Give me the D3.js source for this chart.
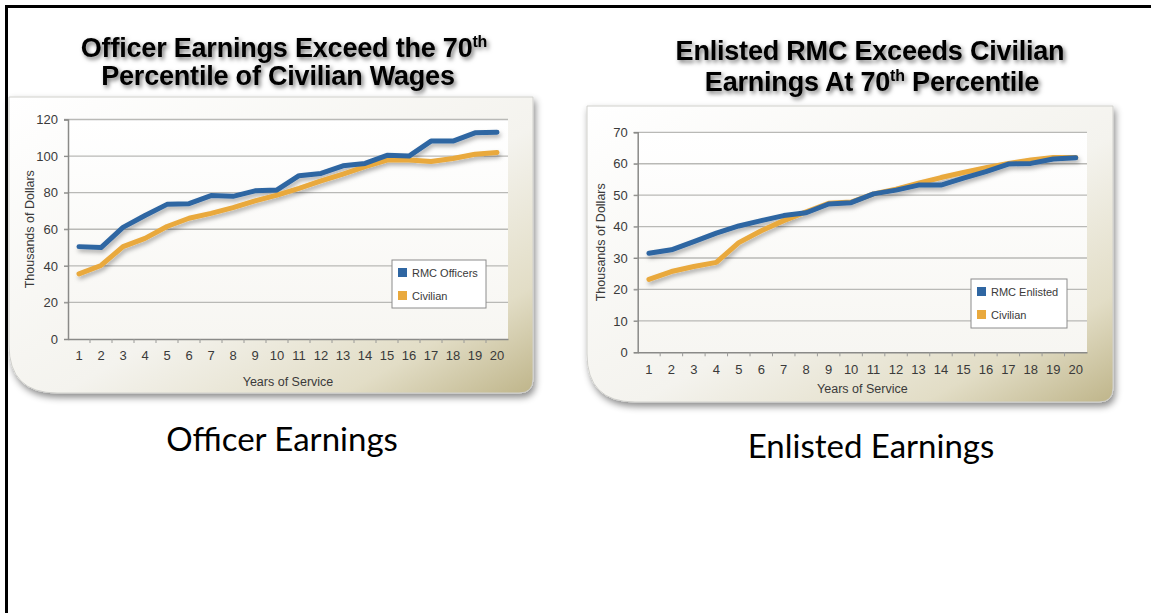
<!DOCTYPE html>
<html>
<head>
<meta charset="utf-8">
<script src="https://cdn.jsdelivr.net/npm/d3@7"></script>
<style>
  html, body { margin: 0; padding: 0; background: #ffffff; }
  svg { display: block; }
</style>
</head>
<body>
<svg id="chart" width="1151" height="613"></svg>
<script>
// ---------------- DATA ----------------
const years = [1,2,3,4,5,6,7,8,9,10,11,12,13,14,15,16,17,18,19,20];

const officerRMC      = [50.5,50,61,67.5,73.6,74,78.4,78,81,81.5,89.3,90.5,94.7,96,100.4,100,108.2,108.2,112.7,113];
const officerCivilian = [35.6,40.2,50.5,55,61.5,66,68.7,71.8,75.5,78.7,82.4,86.4,90.2,94.2,97.8,97.8,97,98.7,101,102];

const enlistedRMC      = [31.5,32.6,35.2,37.9,40.2,41.9,43.5,44.4,47.2,47.6,50.4,51.6,53.2,53.2,55.4,57.5,59.9,60.1,61.5,61.9];
const enlistedCivilian = [23.2,25.7,27.3,28.6,34.9,38.7,41.9,44.7,47.4,47.8,50.4,51.9,53.8,55.6,57.2,58.7,60.1,61.2,62,62];

const officerTicks  = [0,20,40,60,80,100,120];
const enlistedTicks = [0,10,20,30,40,50,60,70];

const officerTitle  = ["Officer Earnings Exceed the 70", "th", "Percentile of Civilian Wages"];
const enlistedTitle = ["Enlisted RMC Exceeds Civilian", "Earnings At 70", "th", " Percentile"];
const officerLegend  = ["RMC Officers", "Civilian"];
const enlistedLegend = ["RMC Enlisted", "Civilian"];
const captions = ["Officer Earnings", "Enlisted Earnings"];

const BLUE = "#2f66a2";
const ORANGE = "#e9a93d";

// ---------------- SETUP ----------------
const svg = d3.select("#chart");
const defs = svg.append("defs");

const cardGrad = defs.append("linearGradient").attr("id", "cardGrad")
  .attr("x1", "0").attr("y1", "0").attr("x2", "1").attr("y2", "1");
cardGrad.append("stop").attr("offset", "0").attr("stop-color", "#ffffff");
cardGrad.append("stop").attr("offset", "0.55").attr("stop-color", "#f4f3ee");
cardGrad.append("stop").attr("offset", "0.82").attr("stop-color", "#e2ddc6");
cardGrad.append("stop").attr("offset", "1").attr("stop-color", "#bfb58a");

const plotGrad = defs.append("linearGradient").attr("id", "plotGrad")
  .attr("x1", "0").attr("y1", "0").attr("x2", "0").attr("y2", "1");
plotGrad.append("stop").attr("offset", "0").attr("stop-color", "#ffffff");
plotGrad.append("stop").attr("offset", "1").attr("stop-color", "#f7f6f2");

const cardShadow = defs.append("filter").attr("id", "cardShadow")
  .attr("x", "-10%").attr("y", "-10%").attr("width", "125%").attr("height", "130%");
cardShadow.append("feDropShadow").attr("dx", 2).attr("dy", 4).attr("stdDeviation", 3.5)
  .attr("flood-color", "#000").attr("flood-opacity", 0.45);

const lineShadow = defs.append("filter").attr("id", "lineShadow")
  .attr("x", "-10%").attr("y", "-20%").attr("width", "120%").attr("height", "150%");
lineShadow.append("feDropShadow").attr("dx", 1.5).attr("dy", 3).attr("stdDeviation", 2)
  .attr("flood-color", "#000").attr("flood-opacity", 0.3);

const textShadow = defs.append("filter").attr("id", "textShadow")
  .attr("x", "-5%").attr("y", "-30%").attr("width", "115%").attr("height", "170%");
textShadow.append("feDropShadow").attr("dx", 2).attr("dy", 2.5).attr("stdDeviation", 2)
  .attr("flood-color", "#000").attr("flood-opacity", 0.55);

// slide frame
svg.append("path")
  .attr("d", "M6.5,613 L6.5,6.5 L1151,6.5")
  .attr("fill", "none").attr("stroke", "#000").attr("stroke-width", 3);

function cardPath(x0, y0, x1, y1, rBL, rBR) {
  const p = d3.path();
  p.moveTo(x0, y0);
  p.lineTo(x1, y0);
  p.lineTo(x1, y1 - rBR);
  p.quadraticCurveTo(x1, y1, x1 - rBR, y1);
  p.lineTo(x0 + rBL, y1);
  p.quadraticCurveTo(x0, y1, x0, y1 - rBL);
  p.closePath();
  return p.toString();
}

function drawPanel(cfg) {
  const g = svg.append("g");

  // card
  g.append("path")
    .attr("d", cardPath(cfg.card[0], cfg.card[1], cfg.card[2], cfg.card[3], 48, 14))
    .attr("fill", "url(#cardGrad)")
    .attr("stroke", "#d0d0cc").attr("stroke-width", 1)
    .attr("filter", "url(#cardShadow)");

  const x = d3.scaleBand().domain(years).range([cfg.plot[0], cfg.plot[2]]);
  const y = d3.scaleLinear().domain([0, cfg.ticks[cfg.ticks.length - 1]]).range([cfg.plot[3], cfg.plot[1]]);

  // plot background
  g.append("rect")
    .attr("x", cfg.plot[0]).attr("y", y.range()[1])
    .attr("width", cfg.plot[2] - cfg.plot[0]).attr("height", y.range()[0] - y.range()[1])
    .attr("fill", "url(#plotGrad)");

  // gridlines
  g.append("g").selectAll("line").data(cfg.ticks.filter(d => d > 0)).join("line")
    .attr("x1", cfg.plot[0] - 4).attr("x2", cfg.plot[2])
    .attr("y1", d => y(d)).attr("y2", d => y(d))
    .attr("stroke", "#b9b9b6").attr("stroke-width", 1.3);

  // y axis
  const yAxis = g.append("g").attr("transform", `translate(${cfg.plot[0]},0)`)
    .call(d3.axisLeft(y).tickValues(cfg.ticks).tickSize(4).tickPadding(6));
  yAxis.select(".domain").attr("stroke", "#8a8a88").attr("stroke-width", 1.5);
  yAxis.selectAll(".tick line").attr("stroke", "#8a8a88");
  yAxis.selectAll("text").attr("fill", "#3a3a3a")
    .style("font-family", "'Liberation Sans', Arial, sans-serif").style("font-size", "13px");

  // x axis
  const xAxis = g.append("g").attr("transform", `translate(0,${y(0)})`)
    .call(d3.axisBottom(x).tickSize(0).tickPadding(12));
  xAxis.select(".domain").attr("stroke", "#8a8a88").attr("stroke-width", 1.5);
  xAxis.selectAll("text").attr("fill", "#3a3a3a")
    .style("font-family", "'Liberation Sans', Arial, sans-serif").style("font-size", "13px");
  // boundary tick marks
  g.append("g").selectAll("line").data(years.slice(1)).join("line")
    .attr("x1", d => x(d)).attr("x2", d => x(d))
    .attr("y1", y(0)).attr("y2", y(0) + 4)
    .attr("stroke", "#9a9a98").attr("stroke-width", 1);

  // axis titles
  g.append("text")
    .attr("x", (cfg.plot[0] + cfg.plot[2]) / 2).attr("y", cfg.xTitleY)
    .attr("text-anchor", "middle").attr("fill", "#3a3a3a")
    .style("font-family", "'Liberation Sans', Arial, sans-serif").style("font-size", "12.5px")
    .text("Years of Service");
  g.append("text")
    .attr("transform", `translate(${cfg.yTitleX},${(y.range()[0] + y.range()[1]) / 2}) rotate(-90)`)
    .attr("text-anchor", "middle").attr("dominant-baseline", "middle").attr("fill", "#3a3a3a")
    .style("font-family", "'Liberation Sans', Arial, sans-serif").style("font-size", "12.5px")
    .text("Thousands of Dollars");

  // lines
  const line = d3.line().x((d, i) => x(years[i]) + x.bandwidth() / 2).y(d => y(d));
  const lines = g.append("g").attr("filter", "url(#lineShadow)");
  lines.append("path").attr("d", line(cfg.civ))
    .attr("fill", "none").attr("stroke", ORANGE).attr("stroke-width", 5)
    .attr("stroke-linejoin", "round").attr("stroke-linecap", "round");
  lines.append("path").attr("d", line(cfg.rmc))
    .attr("fill", "none").attr("stroke", BLUE).attr("stroke-width", 5)
    .attr("stroke-linejoin", "round").attr("stroke-linecap", "round");

  // legend
  const L = cfg.legend;
  const lg = g.append("g").attr("transform", `translate(${L[0]},${L[1]})`);
  lg.append("rect").attr("width", L[2]).attr("height", L[3])
    .attr("fill", "#ffffff").attr("stroke", "#8c8c8c").attr("stroke-width", 1);
  const colors = [BLUE, ORANGE];
  cfg.legendLabels.forEach((lab, i) => {
    lg.append("rect").attr("x", 6).attr("y", 8 + i * 23).attr("width", 9).attr("height", 9)
      .attr("fill", colors[i]);
    lg.append("text").attr("x", 20).attr("y", 16.5 + i * 23)
      .attr("fill", "#3a3a3a")
      .style("font-family", "'Liberation Sans', Arial, sans-serif").style("font-size", "11px")
      .text(lab);
  });
}

drawPanel({
  card: [9, 97, 533, 393],
  plot: [68, 119.5, 508, 339],
  ticks: officerTicks,
  rmc: officerRMC, civ: officerCivilian,
  legend: [392, 260, 94, 48], legendLabels: officerLegend,
  xTitleY: 386, yTitleX: 31
});

drawPanel({
  card: [587, 106, 1113, 402],
  plot: [637.7, 132.3, 1087, 352.3],
  ticks: enlistedTicks,
  rmc: enlistedRMC, civ: enlistedCivilian,
  legend: [971, 279, 96, 49], legendLabels: enlistedLegend,
  xTitleY: 393, yTitleX: 602
});

// titles
const titleFont = "'Liberation Sans', Arial, sans-serif";
function titleLine(parts, cx, yb) {
  const t = svg.append("text").attr("x", cx).attr("y", yb).attr("text-anchor", "middle")
    .attr("fill", "#000").attr("filter", "url(#textShadow)")
    .style("font-family", titleFont).style("font-weight", "bold").style("font-size", "27px")
    .style("letter-spacing", "-0.2px");
  parts.forEach(p => {
    if (p.sup) {
      t.append("tspan").attr("dy", -10).style("font-size", "16px").text(p.s);
    } else if (p.after) {
      t.append("tspan").attr("dy", 10).text(p.s);
    } else {
      t.append("tspan").text(p.s);
    }
  });
}
titleLine([{s: officerTitle[0]}, {s: officerTitle[1], sup: true}], 284, 57);
titleLine([{s: officerTitle[2]}], 278, 85);
titleLine([{s: enlistedTitle[0]}], 870, 60);
titleLine([{s: enlistedTitle[1]}, {s: enlistedTitle[2], sup: true}, {s: enlistedTitle[3], after: true}], 872, 91);

// captions
svg.append("text").attr("x", 282).attr("y", 451).attr("text-anchor", "middle")
  .attr("fill", "#000").style("font-family", "Lato, 'Open Sans', sans-serif").style("font-size", "33px")
  .text(captions[0]);
svg.append("text").attr("x", 871).attr("y", 458).attr("text-anchor", "middle")
  .attr("fill", "#000").style("font-family", "Lato, 'Open Sans', sans-serif").style("font-size", "33px")
  .text(captions[1]);
</script>
</body>
</html>
